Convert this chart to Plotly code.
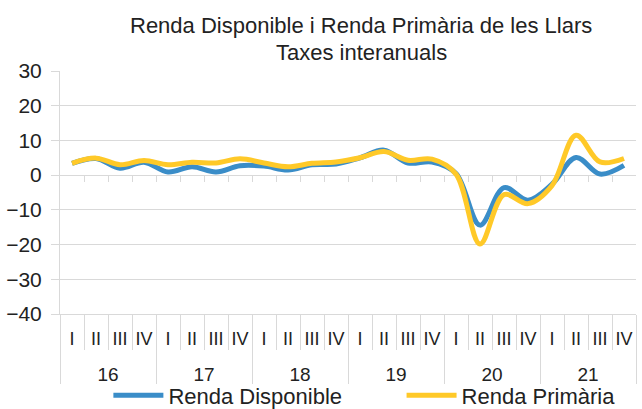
import plotly.graph_objects as go

years = ["16", "17", "18", "19", "20", "21"]
quarters = ["I", "II", "III", "IV"]

renda_disponible = [3.4, 4.8, 2.0, 3.7, 0.9, 2.4, 0.9, 2.7,
                    2.6, 1.5, 3.0, 3.2, 5.0, 7.2, 3.5, 3.8,
                    0.5, -14.4, -3.6, -7.2, -2.6, 5.1, 0.3, 2.8]
renda_primaria = [3.4, 4.9, 3.0, 4.2, 3.0, 3.7, 3.5, 4.7,
                  3.5, 2.4, 3.4, 3.8, 5.0, 6.8, 4.3, 4.6,
                  0.3, -19.8, -5.6, -8.2, -3.0, 11.5, 3.8, 4.8]

n = len(years) * len(quarters)
idx = list(range(n))
quarter_text = [q for _ in years for q in quarters]
year_pos = [i * len(quarters) + (len(quarters) - 1) / 2 for i in range(len(years))]
year_bounds = [i * len(quarters) - 0.5 for i in range(len(years) + 1)]
quarter_bounds = [i + 0.5 for i in range(n - 1) if (i + 1) % len(quarters)]
all_bounds = [i + 0.5 for i in range(n - 1)]

BLUE = "#3A8DC8"
GOLD = "#FFC928"
GRID = "#d9d9d9"
TEXT = "#222222"
FONT = "Liberation Sans, Arial, sans-serif"
XR = [-0.5, n - 0.5]

fig = go.Figure()
fig.add_trace(go.Scatter(
    x=idx, y=renda_disponible, name="Renda Disponible", legend="legend",
    mode="lines", line=dict(color=BLUE, width=5, shape="spline", smoothing=1),
))
fig.add_trace(go.Scatter(
    x=idx, y=renda_primaria, name="Renda Primària", legend="legend2",
    mode="lines", line=dict(color=GOLD, width=5, shape="spline", smoothing=1),
))
# empty traces so the helper axes get drawn
for ax in ["x2", "x3", "x4", "x5"]:
    fig.add_trace(go.Scatter(x=[None], y=[None], xaxis=ax, mode="lines",
                             showlegend=False, hoverinfo="skip"))

# two-line title as annotations
fig.add_annotation(text="Renda Disponible i Renda Primària de les Llars",
                   xref="paper", yref="paper", x=0.5226, y=1.189,
                   xanchor="center", yanchor="middle", showarrow=False,
                   font=dict(size=22, color=TEXT))
fig.add_annotation(text="Taxes interanuals",
                   xref="paper", yref="paper", x=0.5226, y=1.078,
                   xanchor="center", yanchor="middle", showarrow=False,
                   font=dict(size=22, color=TEXT))

hidden = dict(overlaying="x", range=XR, showgrid=False, zeroline=False,
              showline=False, automargin=False)
legend_style = dict(orientation="h", xanchor="left", y=-0.335, yanchor="middle",
                    font=dict(size=22, color=TEXT), itemwidth=50,
                    bgcolor="rgba(0,0,0,0)")

fig.update_layout(
    width=642, height=409,
    margin=dict(l=60, r=6, t=71, b=95, autoexpand=False),
    paper_bgcolor="white", plot_bgcolor="white",
    font=dict(family=FONT, color=TEXT),
    # quarter labels
    xaxis=dict(range=XR, tickvals=idx, ticktext=quarter_text, ticks="",
               showgrid=False, zeroline=False, automargin=False,
               showline=True, linecolor=GRID, ticklabelstandoff=8,
               tickfont=dict(size=18, color=TEXT)),
    # quarter separators
    xaxis2=dict(anchor="y", side="bottom", tickvals=quarter_bounds,
                ticks="outside", ticklen=35, tickcolor=GRID,
                showticklabels=False, **hidden),
    # year separators
    xaxis3=dict(anchor="y", side="bottom", tickvals=year_bounds,
                ticks="outside", ticklen=69, tickcolor=GRID,
                showticklabels=False, **hidden),
    # year labels
    xaxis4=dict(anchor="y", side="bottom", tickvals=year_pos, ticktext=years,
                ticks="", ticklabelstandoff=47,
                tickfont=dict(size=19, color=TEXT), **hidden),
    # small ticks on the zero line
    xaxis5=dict(anchor="free", position=40 / 70, tickvals=all_bounds,
                ticks="outside", ticklen=6, tickcolor=GRID,
                showticklabels=False, **hidden),
    yaxis=dict(range=[-40, 30], dtick=10, gridcolor=GRID, zeroline=False,
               ticks="outside", ticklen=8, tickcolor=GRID, automargin=False,
               showline=True, linecolor=GRID, ticklabelstandoff=5,
               tickfont=dict(size=21, color=TEXT)),
    legend=dict(x=0.084, **legend_style),
    legend2=dict(x=0.593, **legend_style),
    showlegend=True,
)

fig.write_html("out.html", config={"displayModeBar": False},
               post_script="document.body.style.margin='0';")
